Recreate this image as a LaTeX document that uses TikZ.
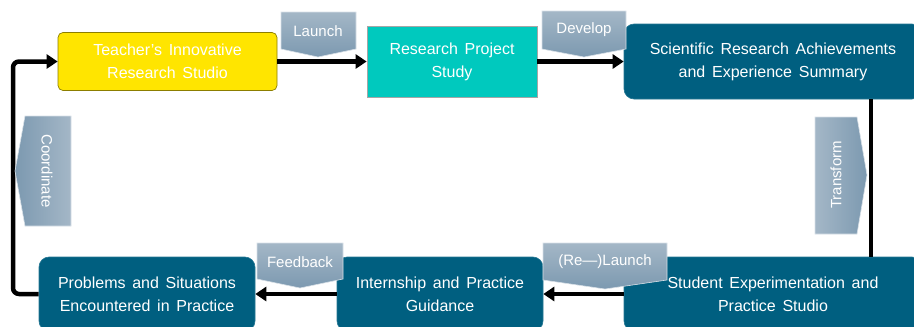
\documentclass[tikz,border=0pt]{standalone}
\usepackage{fontspec}
\setmainfont{Liberation Sans}
\usetikzlibrary{arrows.meta}
\definecolor{studioyellow}{HTML}{FFE500}
\definecolor{studyteal}{HTML}{00C9BE}
\definecolor{deepblue}{HTML}{005F80}
\definecolor{tagdark}{HTML}{7C99B0}
\definecolor{taglight}{HTML}{A4B7C7}
\newcommand\widespaces{\spaceskip=0.42em plus 0.1em\relax}
\begin{document}
\begin{tikzpicture}[x=1pt,y=-1pt,
  box/.style={rectangle, align=center, text=white, inner sep=0pt,
    font=\fontsize{16}{23}\selectfont, execute at begin node=\widespaces},
  darkbox/.style={box, fill=deepblue, draw=deepblue!85!white, line width=0.6pt, rounded corners=10pt},
  flow/.style={line width=4.5pt, -{Triangle[length=11pt,width=14pt]}},
  link/.style={line width=4pt},
  tagtext/.style={text=white, inner sep=0pt, font=\fontsize{15}{18}\selectfont},
  tagshape/.style={draw=white!70!tagdark, line width=0.6pt}
]
\path[use as bounding box] (0,0) rectangle (914,327);
\begin{scope}
\clip (0,0) rectangle (914,327);

% process boxes
\node[box, fill=studioyellow, draw=studioyellow!55!black, line width=0.7pt, rounded corners=5pt,
      minimum width=219pt, minimum height=58pt] (teacher) at (167.5,61.5)
      {Teacher's Innovative\\Research Studio};
\node[box, fill=studyteal, draw=gray!70, line width=0.7pt,
      minimum width=170pt, minimum height=71pt] (research) at (452,61.5)
      {Research Project\\Study};
\node[darkbox, minimum width=298pt, minimum height=75pt] (sci) at (773,61.5)
      {Scientific Research Achievements\\and Experience Summary};
\node[darkbox, minimum width=298pt, minimum height=74pt] (student) at (773,294)
      {Student Experimentation and\\Practice Studio};
\node[darkbox, minimum width=206pt, minimum height=74pt] (intern) at (440,294)
      {Internship and Practice\\Guidance};
\node[darkbox, minimum width=216pt, minimum height=74pt] (problems) at (147,294)
      {Problems and Situations\\Encountered in Practice};

% connectors
\coordinate (rightrail) at (871,0);
\coordinate (leftrail) at (13,0);
\draw[flow] (teacher.east) -- (research.west);
\draw[flow] (research.east) -- (sci.west);
\draw[link] (sci.south -| rightrail) -- (student.north -| rightrail);
\draw[flow] (student.west) -- (intern.east);
\draw[flow] (intern.west) -- (problems.east);
\draw[flow, rounded corners=6pt] (problems.west) -- (leftrail |- problems.west)
      -- (leftrail |- teacher.west) -- (teacher.west);

% callout tags
\path[tagshape, top color=taglight, bottom color=tagdark]
  (281,12) -- (356,12) -- (356,49) -- (318,57) -- (281,49) -- cycle;
\node[tagtext] (launch) at (318,31) {Launch};
\path[tagshape, top color=taglight, bottom color=tagdark]
  (542,11) -- (626,11) -- (626,49) -- (584,57) -- (542,49) -- cycle;
\node[tagtext] (develop) at (584,30) {Develop};
\path[tagshape, left color=taglight, right color=tagdark]
  (815,117) -- (857,117) -- (867,175) -- (857,234) -- (815,234) -- cycle;
\node[tagtext, rotate=90] (transform) at (836,175) {Transform};
\path[tagshape, top color=taglight, bottom color=tagdark]
  (543,243) -- (667,243) -- (667,280) -- (605,289) -- (543,280) -- cycle;
\node[tagtext] (relaunch) at (605,262) {(Re---)Launch};
\path[tagshape, top color=taglight, bottom color=tagdark]
  (257,243) -- (343,243) -- (343,279) -- (300,288) -- (257,279) -- cycle;
\node[tagtext] (feedback) at (300,262) {Feedback};
\path[tagshape, left color=tagdark, right color=taglight]
  (25,116) -- (71,116) -- (71,226) -- (25,226) -- (15,171) -- cycle;
\node[tagtext, rotate=-90] (coordinate) at (47,171) {Coordinate};
\end{scope}
\end{tikzpicture}
\end{document}
